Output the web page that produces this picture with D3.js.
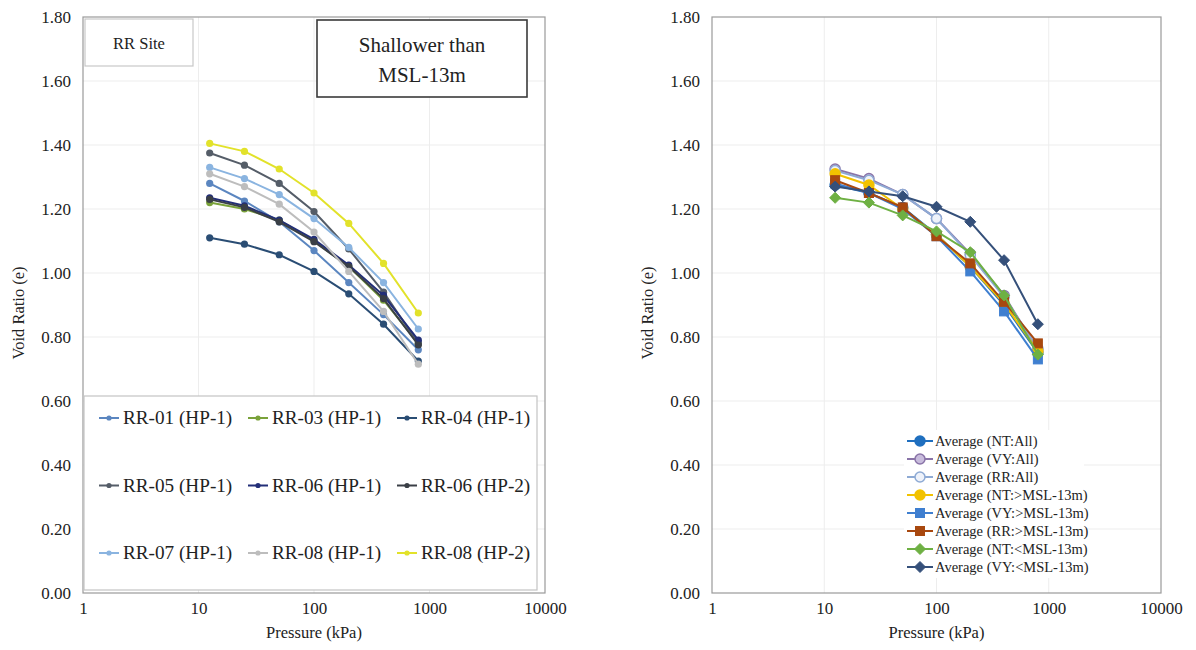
<!DOCTYPE html>
<html>
<head>
<meta charset="utf-8">
<script src="https://cdn.jsdelivr.net/npm/d3@7"></script>
<style>
  html, body { margin: 0; padding: 0; background: #fff; }
  svg { display: block; }
  text { font-family: "Liberation Serif", "Times New Roman", serif; fill: #222; }
</style>
</head>
<body>
<svg id="chart" width="1196" height="650"></svg>
<script>
// Consolidation test pressures (kPa)
const pressures = [12.5, 25, 50, 100, 200, 400, 800];

// Void ratio per load step, RR site samples shallower than MSL-13m
const rr01hp1 = [1.28, 1.225, 1.16, 1.07, 0.97, 0.87, 0.76];
const rr03hp1 = [1.22, 1.20, 1.165, 1.10, 1.02, 0.915, 0.78];
const rr04hp1 = [1.11, 1.09, 1.057, 1.005, 0.935, 0.84, 0.725];
const rr05hp1 = [1.375, 1.337, 1.28, 1.192, 1.075, 0.94, 0.78];
const rr06hp1 = [1.235, 1.21, 1.165, 1.105, 1.025, 0.93, 0.79];
const rr06hp2 = [1.23, 1.205, 1.16, 1.098, 1.02, 0.92, 0.775];
const rr07hp1 = [1.33, 1.295, 1.245, 1.17, 1.08, 0.97, 0.825];
const rr08hp1 = [1.31, 1.27, 1.215, 1.128, 1.005, 0.88, 0.715];
const rr08hp2 = [1.405, 1.38, 1.325, 1.25, 1.155, 1.03, 0.875];

// Averaged curves per site / depth group
const avgNtAll = [1.275, 1.25, 1.205, 1.12, 1.02, 0.90, 0.75];
const avgVyAll = [1.325, 1.295, 1.245, 1.17, 1.06, 0.93, 0.76];
const avgRrAll = [1.32, 1.29, 1.245, 1.17, 1.055, 0.925, 0.765];
const avgNtShallow = [1.31, 1.275, 1.20, 1.12, 1.02, 0.905, 0.755];
const avgVyShallow = [1.28, 1.25, 1.20, 1.115, 1.005, 0.88, 0.73];
const avgRrShallow = [1.29, 1.25, 1.205, 1.115, 1.03, 0.91, 0.78];
const avgNtDeep = [1.235, 1.22, 1.18, 1.13, 1.065, 0.93, 0.745];
const avgVyDeep = [1.27, 1.255, 1.24, 1.207, 1.16, 1.04, 0.84];

// Axis ticks
const xTicks = [1, 10, 100, 1000, 10000];
const yTicks = [0, 0.2, 0.4, 0.6, 0.8, 1.0, 1.2, 1.4, 1.6, 1.8];

const leftSeries = [
  { name: "RR-01 (HP-1)", values: rr01hp1, color: "#5b86c0" },
  { name: "RR-03 (HP-1)", values: rr03hp1, color: "#7aa23a" },
  { name: "RR-04 (HP-1)", values: rr04hp1, color: "#2a4d74" },
  { name: "RR-05 (HP-1)", values: rr05hp1, color: "#555d68" },
  { name: "RR-06 (HP-1)", values: rr06hp1, color: "#232f78" },
  { name: "RR-06 (HP-2)", values: rr06hp2, color: "#3a3f46" },
  { name: "RR-07 (HP-1)", values: rr07hp1, color: "#8ab4e0" },
  { name: "RR-08 (HP-1)", values: rr08hp1, color: "#bdbdbd" },
  { name: "RR-08 (HP-2)", values: rr08hp2, color: "#e2e22a" }
];

const rightSeries = [
  { name: "Average (NT:All)", values: avgNtAll, color: "#1f6fbf", shape: "circle", fill: "#1f6fbf" },
  { name: "Average (VY:All)", values: avgVyAll, color: "#8a74a8", shape: "circle", fill: "#c8bcdc" },
  { name: "Average (RR:All)", values: avgRrAll, color: "#8eaad4", shape: "circle", fill: "#eef2fa" },
  { name: "Average (NT:>MSL-13m)", values: avgNtShallow, color: "#f2c200", shape: "circle", fill: "#f2c200" },
  { name: "Average (VY:>MSL-13m)", values: avgVyShallow, color: "#3f7fd0", shape: "square", fill: "#3f7fd0" },
  { name: "Average (RR:>MSL-13m)", values: avgRrShallow, color: "#a8480f", shape: "square", fill: "#a8480f" },
  { name: "Average (NT:<MSL-13m)", values: avgNtDeep, color: "#6eb043", shape: "diamond", fill: "#6eb043" },
  { name: "Average (VY:<MSL-13m)", values: avgVyDeep, color: "#35507a", shape: "diamond", fill: "#35507a" }
];

const svg = d3.select("#chart");

const yScale = d3.scaleLinear().domain([0, 1.8]).range([593, 17]);

function drawFrame(x, yTitleX) {
  const g = svg.append("g");
  const [x0, x1] = x.range();
  const [y0, y1] = yScale.range();

  // gridlines
  g.selectAll("line.hgrid").data(yTicks.slice(1, -1)).join("line")
    .attr("x1", x0).attr("x2", x1)
    .attr("y1", d => yScale(d)).attr("y2", d => yScale(d))
    .attr("stroke", "#ededed").attr("stroke-width", 1);
  g.selectAll("line.vgrid").data(xTicks.slice(1, -1)).join("line")
    .attr("x1", d => x(d)).attr("x2", d => x(d))
    .attr("y1", y1).attr("y2", y0)
    .attr("stroke", "#ededed").attr("stroke-width", 1);

  // plot area border
  g.append("rect")
    .attr("x", x0).attr("y", y1)
    .attr("width", x1 - x0).attr("height", y0 - y1)
    .attr("fill", "none").attr("stroke", "#9a9a9a").attr("stroke-width", 1.2);

  // y axis
  const ya = g.append("g").attr("transform", `translate(${x0},0)`)
    .call(d3.axisLeft(yScale).tickValues(yTicks).tickFormat(d3.format(".2f")).tickSize(0).tickPadding(12));
  ya.select(".domain").remove();
  ya.selectAll("text").attr("font-size", 17).attr("font-family", "Liberation Serif, serif").attr("fill", "#222");

  // x axis
  const xa = g.append("g").attr("transform", `translate(0,${y0})`)
    .call(d3.axisBottom(x).tickValues(xTicks).tickFormat(d3.format("d")).tickSize(0).tickPadding(9));
  xa.select(".domain").remove();
  xa.selectAll("text").attr("font-size", 17).attr("font-family", "Liberation Serif, serif").attr("fill", "#222");

  // titles
  g.append("text").attr("x", (x0 + x1) / 2).attr("y", 638)
    .attr("text-anchor", "middle").attr("font-size", 16.5).text("Pressure (kPa)");
  g.append("text").attr("transform", `translate(${yTitleX},${(y0 + y1) / 2 + 8}) rotate(-90)`)
    .attr("text-anchor", "middle").attr("font-size", 16.5).text("Void Ratio (e)");
}

// ---------- left panel ----------
const xLeft = d3.scaleLog().domain([1, 10000]).range([83, 545]);
drawFrame(xLeft, 24);

const line = xs => d3.line().x((d, i) => xs(pressures[i])).y(d => yScale(d));

const lg = svg.append("g");
leftSeries.forEach(s => {
  lg.append("path").datum(s.values)
    .attr("d", line(xLeft))
    .attr("fill", "none").attr("stroke", s.color).attr("stroke-width", 2);
  lg.selectAll(null).data(s.values).join("circle")
    .attr("cx", (d, i) => xLeft(pressures[i])).attr("cy", d => yScale(d))
    .attr("r", 3.6).attr("fill", s.color);
});

// annotation boxes
svg.append("rect").attr("x", 85).attr("y", 19).attr("width", 108).attr("height", 47)
  .attr("fill", "#fff").attr("stroke", "#c8c8c8").attr("stroke-width", 1.2);
svg.append("text").attr("x", 139).attr("y", 49).attr("text-anchor", "middle")
  .attr("font-size", 16.5).text("RR Site");

svg.append("rect").attr("x", 317).attr("y", 20).attr("width", 210).attr("height", 77)
  .attr("fill", "#fff").attr("stroke", "#3a3a3a").attr("stroke-width", 1.6);
svg.append("text").attr("x", 422).attr("y", 52).attr("text-anchor", "middle")
  .attr("font-family", "Lato, sans-serif").attr("font-size", 21).text("Shallower than");
svg.append("text").attr("x", 422).attr("y", 82).attr("text-anchor", "middle")
  .attr("font-family", "Lato, sans-serif").attr("font-size", 21).text("MSL-13m");

// left legend
const legL = svg.append("g");
legL.append("rect").attr("x", 84).attr("y", 396).attr("width", 453).attr("height", 194)
  .attr("fill", "#fff").attr("stroke", "#c4c4c4").attr("stroke-width", 1.2);
leftSeries.forEach((s, i) => {
  const col = i % 3, row = Math.floor(i / 3);
  const lx = 99 + col * 149, ly = 418 + row * 67.5;
  legL.append("line").attr("x1", lx).attr("x2", lx + 20).attr("y1", ly).attr("y2", ly)
    .attr("stroke", s.color).attr("stroke-width", 2);
  legL.append("circle").attr("cx", lx + 10).attr("cy", ly).attr("r", 2.6).attr("fill", s.color);
  legL.append("text").attr("x", lx + 24).attr("y", ly + 6).attr("font-size", 19.2).text(s.name);
});

// ---------- right panel ----------
const xRight = d3.scaleLog().domain([1, 10000]).range([712, 1161]);
drawFrame(xRight, 653);

function marker(g, shape, cx, cy, fill, stroke) {
  if (shape === "circle") {
    g.append("circle").attr("cx", cx).attr("cy", cy).attr("r", 5)
      .attr("fill", fill).attr("stroke", stroke).attr("stroke-width", 1.5);
  } else if (shape === "square") {
    g.append("rect").attr("x", cx - 4.5).attr("y", cy - 4.5).attr("width", 9).attr("height", 9)
      .attr("fill", fill).attr("stroke", stroke).attr("stroke-width", 1);
  } else {
    g.append("path").attr("d", `M${cx},${cy - 5.5}L${cx + 5.5},${cy}L${cx},${cy + 5.5}L${cx - 5.5},${cy}Z`)
      .attr("fill", fill).attr("stroke", stroke).attr("stroke-width", 1);
  }
}

const rg = svg.append("g");
rightSeries.forEach(s => {
  rg.append("path").datum(s.values)
    .attr("d", line(xRight))
    .attr("fill", "none").attr("stroke", s.color).attr("stroke-width", 2);
  s.values.forEach((v, i) => marker(rg, s.shape, xRight(pressures[i]), yScale(v), s.fill, s.color));
});

// right legend
const legR = svg.append("g");
legR.append("rect").attr("x", 904).attr("y", 430).attr("width", 180).attr("height", 148).attr("fill", "#fff");
rightSeries.forEach((s, i) => {
  const ly = 441 + i * 18;
  legR.append("line").attr("x1", 907).attr("x2", 933).attr("y1", ly).attr("y2", ly)
    .attr("stroke", s.color).attr("stroke-width", 2);
  marker(legR, s.shape, 920, ly, s.fill, s.color);
  legR.append("text").attr("x", 935).attr("y", ly + 5).attr("font-size", 14.5).text(s.name);
});
</script>
</body>
</html>
